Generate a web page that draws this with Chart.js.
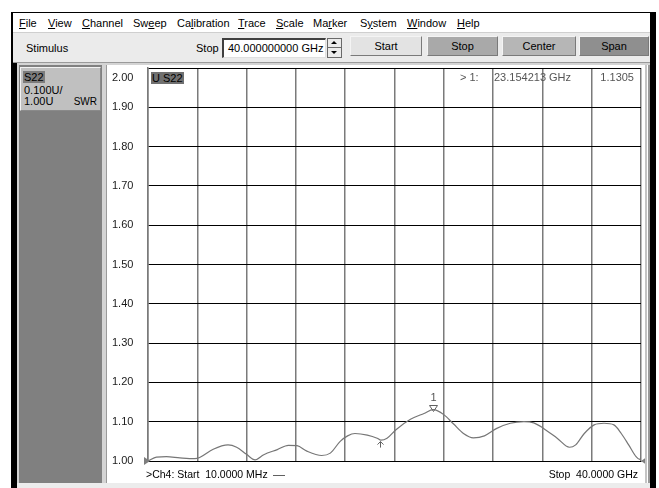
<!DOCTYPE html>
<html><head><meta charset="utf-8">
<script src="https://cdn.jsdelivr.net/npm/chart.js@4.4.0/dist/chart.umd.min.js"></script>
<style>
html,body{margin:0;padding:0;background:#fff;}
body{width:659px;height:488px;position:relative;overflow:hidden;font-family:"Liberation Sans",Arial,sans-serif;font-size:11px;color:#000;}
.a{position:absolute;}
.t{position:absolute;white-space:pre;line-height:13px;}
.btn{position:absolute;top:36px;height:18px;border:1px solid;border-color:#f4f4f4 #7a7a7a #7a7a7a #f4f4f4;text-align:center;line-height:18px;}
</style></head><body>
<!-- frame -->
<div class="a" style="left:11px;top:12px;width:645px;height:1px;background:#000"></div>
<div class="a" style="left:11px;top:12px;width:2px;height:476px;background:#000"></div>
<div class="a" style="left:11px;top:62px;width:6px;height:426px;background:#000"></div>
<div class="a" style="left:650px;top:12px;width:6px;height:476px;background:#000"></div>
<!-- menu -->
<div class="a" style="left:13px;top:13px;width:637px;height:19px;background:#fff"></div>
<div class="a" style="left:13px;top:32px;width:637px;height:1px;background:#cfcfcf"></div>
<div class="t" style="left:19px;top:17px"><u>F</u>ile</div>
<div class="t" style="left:48px;top:17px"><u>V</u>iew</div>
<div class="t" style="left:82px;top:17px"><u>C</u>hannel</div>
<div class="t" style="left:133px;top:17px">Sw<u>e</u>ep</div>
<div class="t" style="left:177px;top:17px">Ca<u>l</u>ibration</div>
<div class="t" style="left:238px;top:17px"><u>T</u>race</div>
<div class="t" style="left:276px;top:17px"><u>S</u>cale</div>
<div class="t" style="left:313px;top:17px">Ma<u>r</u>ker</div>
<div class="t" style="left:360px;top:17px">S<u>y</u>stem</div>
<div class="t" style="left:407px;top:17px"><u>W</u>indow</div>
<div class="t" style="left:457px;top:17px"><u>H</u>elp</div>
<!-- toolbar -->
<div class="a" style="left:13px;top:33px;width:637px;height:29px;background:#ebebeb"></div>
<div class="t" style="left:26px;top:42px">Stimulus</div>
<div class="t" style="left:196px;top:42px">Stop</div>
<div class="a" style="left:222px;top:38px;width:101px;height:17px;background:#fff;border-style:solid;border-width:2px 1px 1px 2px;border-color:#404040 #e0e0e0 #e0e0e0 #404040"></div>
<div class="t" style="left:228px;top:42px">40.000000000 GHz</div>
<div class="a" style="left:327px;top:38px;width:13px;height:18px;background:#ebebeb;border:1px solid #6a6a6a"></div>
<div class="a" style="left:328px;top:47px;width:13px;height:1px;background:#6a6a6a"></div>
<div class="a" style="left:331px;top:41px;width:0;height:0;border-left:3px solid transparent;border-right:3px solid transparent;border-bottom:3px solid #000"></div>
<div class="a" style="left:331px;top:51px;width:0;height:0;border-left:3px solid transparent;border-right:3px solid transparent;border-top:3px solid #000"></div>
<div class="btn" style="left:350px;width:70px;background:#e3e3e3">Start</div>
<div class="btn" style="left:427px;width:69px;background:#a9a9a9">Stop</div>
<div class="btn" style="left:502px;width:72px;background:#b6b6b6">Center</div>
<div class="btn" style="left:579px;width:68px;background:#8f8f8f">Span</div>
<!-- main area -->
<div class="a" style="left:13px;top:62px;width:637px;height:1px;background:#9a9a9a"></div>
<div class="a" style="left:17px;top:63px;width:633px;height:425px;background:#d4d4d4"></div>
<div class="a" style="left:19px;top:65px;width:83px;height:418px;background:#808080"></div>
<div class="a" style="left:20px;top:67px;width:79px;height:42px;background:#c0c0c0;border-style:solid;border-width:1px;border-color:#f2f2f2 #8a8a8a #8a8a8a #f2f2f2"></div>
<div class="t" style="left:23px;top:71px"><span style="background:#7c7c7c;padding:0 1px">S22</span></div>
<div class="t" style="left:24px;top:84px">0.100U/</div>
<div class="t" style="left:24px;top:95px">1.00U</div>
<div class="t" style="right:562px;top:95px;font-size:10px">SWR</div>
<div class="a" style="left:106px;top:65px;width:1px;height:418px;background:#9a9a9a"></div>
<div class="a" style="left:107px;top:65px;width:538px;height:418px;background:#fff"></div>
<div class="a" style="left:645px;top:65px;width:2px;height:418px;background:#c4c4c4"></div>
<div class="a" style="left:647px;top:65px;width:1px;height:418px;background:#fff"></div>
<div class="a" style="left:648px;top:65px;width:2px;height:418px;background:#9a9a9a"></div>
<div class="a" style="left:17px;top:483px;width:633px;height:5px;background:#ececec"></div>
<canvas id="c" class="a" style="left:108px;top:62px" width="537" height="421"></canvas>
<!-- chart texts -->
<div class="t" style="left:151px;top:72px"><span style="background:#707070;padding:0 1px">U S22</span></div>
<div class="t" style="left:460px;top:71px;color:#555">&gt; 1:</div>
<div class="t" style="left:494px;top:71px;color:#555">23.154213 GHz</div>
<div class="t" style="right:25px;top:71px;color:#555">1.1305</div>
<div class="t" style="left:146px;top:468px;font-size:10.5px">&gt;Ch4: Start  10.0000 MHz <span style="display:inline-block;width:12px;height:1px;background:#606060;vertical-align:middle;margin-left:2px"></span></div>
<div class="t" style="right:21px;top:468px;font-size:10.5px">Stop  40.0000 GHz</div>
<script>
// ---- data ----
const startGHz = 0.01;
const stopGHz = 40;
const xDivisions = 10;
const yMin = 1.0;
const yMax = 2.0;
const yStep = 0.1;
const freqGHz = [0.01, 0.7, 1.5, 2.6, 3.8, 4.2, 5.3, 6.5, 7.2, 8.0, 8.7, 9.4, 10.5, 11.4, 12.1, 12.9, 14.1, 14.8, 15.6, 16.2, 16.8, 17.8, 18.6, 18.9, 19.4, 20.1, 21.3, 22.4, 23.15, 24.0, 24.8, 25.6, 26.4, 27.3, 28.3, 29.4, 30.5, 31.3, 32.1, 33.2, 34.2, 34.7, 35.4, 36.2, 37.0, 37.8, 38.4, 39.0, 39.6, 39.9, 40.0];
const swrS22 = [1.000, 1.010, 1.011, 1.008, 1.006, 1.009, 1.030, 1.041, 1.035, 1.017, 1.003, 1.016, 1.029, 1.040, 1.039, 1.025, 1.014, 1.020, 1.050, 1.064, 1.070, 1.066, 1.058, 1.053, 1.058, 1.079, 1.106, 1.121, 1.1305, 1.118, 1.094, 1.070, 1.059, 1.064, 1.083, 1.096, 1.100, 1.097, 1.083, 1.058, 1.035, 1.041, 1.070, 1.092, 1.096, 1.092, 1.070, 1.041, 1.011, 1.004, 1.008];
const markerFreq = [23.154213];
const markerValue = [1.1305];
const markerLabel = ['1'];
const starFreq = [18.86];
const starValue = [1.052];
const refLevel = [1.00];

const FONT = '"Liberation Sans", Arial, sans-serif';

const vnaMarks = {
  id: 'vnaMarks',
  afterDatasetsDraw(chart) {
    const {ctx, chartArea: a, scales: {x, y}} = chart;
    ctx.save();
    const ry = y.getPixelForValue(refLevel[0]);
    ctx.fillStyle = '#7e7e7e';
    ctx.beginPath(); ctx.moveTo(a.left - 4, ry - 4); ctx.lineTo(a.left + 2, ry); ctx.lineTo(a.left - 4, ry + 4); ctx.closePath(); ctx.fill();
    ctx.beginPath(); ctx.moveTo(a.right + 6, ry - 4); ctx.lineTo(a.right, ry); ctx.lineTo(a.right + 6, ry + 4); ctx.closePath(); ctx.fill();
    ctx.strokeStyle = '#606060'; ctx.lineWidth = 1;
    ctx.fillStyle = '#555';
    ctx.font = '11px ' + FONT; ctx.textAlign = 'center'; ctx.textBaseline = 'middle';
    for (let i = 0; i < markerFreq.length; i++) {
      const mx = Math.round(x.getPixelForValue(markerFreq[i])) + 0.5;
      const my = Math.round(y.getPixelForValue(markerValue[i]));
      ctx.beginPath(); ctx.moveTo(mx - 4, my - 4.5); ctx.lineTo(mx + 4, my - 4.5); ctx.lineTo(mx, my + 1.5); ctx.closePath(); ctx.stroke();
      ctx.fillText(markerLabel[i], mx, my - 12);
    }
    for (let i = 0; i < starFreq.length; i++) {
      const sx = Math.round(x.getPixelForValue(starFreq[i])) + 0.5;
      const sy = y.getPixelForValue(starValue[i]);
      ctx.beginPath();
      ctx.moveTo(sx, sy + 1); ctx.lineTo(sx, sy + 7);
      ctx.moveTo(sx, sy + 1); ctx.lineTo(sx - 3, sy + 4);
      ctx.moveTo(sx, sy + 1); ctx.lineTo(sx + 3, sy + 4);
      ctx.stroke();
    }
    ctx.restore();
  }
};

new Chart(document.getElementById('c'), {
  type: 'line',
  data: {
    datasets: [{
      data: freqGHz.map((f, i) => ({x: f, y: swrS22[i]})),
      borderColor: '#767676',
      borderWidth: 1.2,
      pointRadius: 0,
      tension: 0.35,
      cubicInterpolationMode: 'monotone',
      fill: false
    }]
  },
  options: {
    responsive: false,
    animation: false,
    events: [],
    layout: {padding: {left: 4, top: 6, right: 4, bottom: 22}},
    plugins: {legend: {display: false}, tooltip: {enabled: false}},
    scales: {
      x: {
        type: 'linear', min: startGHz, max: stopGHz,
        afterBuildTicks: (s) => {
          s.ticks = Array.from({length: xDivisions + 1}, (_, i) => ({value: startGHz + i * (stopGHz - startGHz) / xDivisions}));
        },
        ticks: {display: false},
        grid: {color: '#7a7a7a', lineWidth: 1.5, drawTicks: false},
        border: {color: '#000', width: 1},
        afterFit: (s) => { s.height = 0; s.paddingLeft = 0; s.paddingRight = 0; }
      },
      y: {
        min: yMin, max: yMax,
        ticks: {
          stepSize: yStep, autoSkip: false, padding: 0, crossAlign: 'far',
          color: '#1a1a1a',
          font: {family: FONT, size: 11, lineHeight: 1.82},
          callback: (v) => Math.abs(v - yMax) < 1e-6 ? ['', v.toFixed(2)] : v.toFixed(2)
        },
        grid: {color: '#000', lineWidth: 1, drawTicks: false},
        border: {color: '#7a7a7a', width: 1.5},
        afterFit: (s) => { s.width = 36; s.paddingTop = 0; s.paddingBottom = 0; }
      }
    }
  },
  plugins: [vnaMarks]
});
</script>
</body></html>
